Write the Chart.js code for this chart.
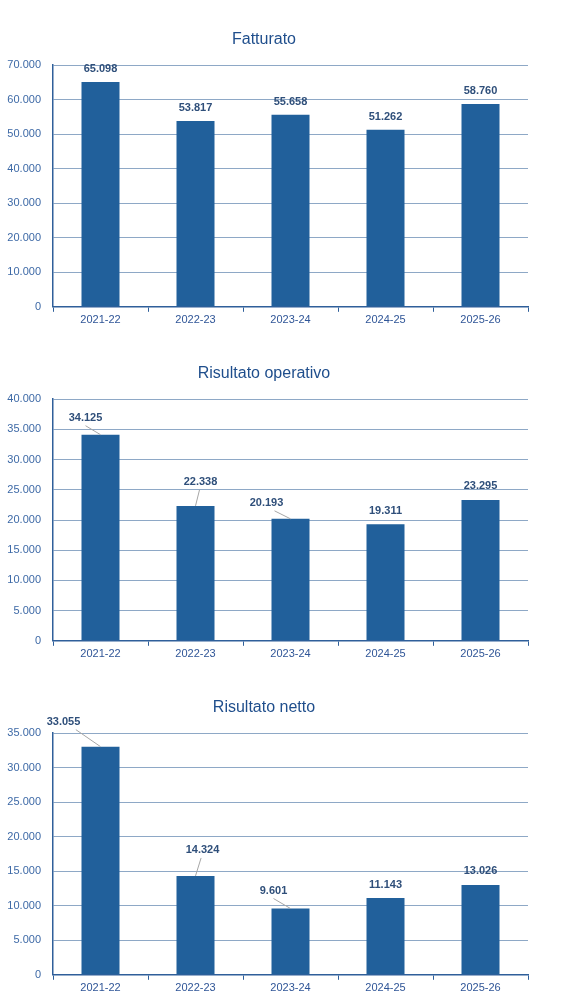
<!DOCTYPE html>
<html>
<head>
<meta charset="utf-8">
<script src="https://cdn.jsdelivr.net/npm/chart.js@4"></script>
<style>
body { margin: 0; background: #fff; }
.box { position: absolute; left: 0; width: 579px; height: 335px; }
</style>
</head>
<body>
<div class="box" style="top:0"><canvas id="c1"></canvas></div>
<div class="box" style="top:334px"><canvas id="c2"></canvas></div>
<div class="box" style="top:668px"><canvas id="c3"></canvas></div>
<script>
const years = ["2021-22", "2022-23", "2023-24", "2024-25", "2025-26"];
const fatturato = [65098, 53817, 55658, 51262, 58760];
const operativo = [34125, 22338, 20193, 19311, 23295];
const netto = [33055, 14324, 9601, 11143, 13026];

const fmt = v => v.toLocaleString("it-IT");

// label offsets from bar top (px), leader line drawn when far
const labelPlugin = {
    id: "barLabels",
    afterDatasetsDraw(chart, args, opts) {
        const ctx = chart.ctx;
        const meta = chart.getDatasetMeta(0);
        const data = chart.data.datasets[0].data;
        ctx.save();
        ctx.font = "bold 11px 'Liberation Sans', Arial";
        ctx.textAlign = "center";
        ctx.textBaseline = "middle";
        meta.data.forEach((bar, i) => {
            const [dx, dy] = opts.offsets[i];
            const lx = bar.x + dx, ly = bar.y + dy;
            if (dy < -15) {
                ctx.strokeStyle = "#a6a6a6";
                ctx.lineWidth = 1;
                ctx.beginPath();
                ctx.moveTo(lx + (dx < -20 ? dx / -3 : 0) - (dx > 0 ? dx : 0) * 0.2, ly + 8);
                ctx.lineTo(bar.x, bar.y);
                ctx.stroke();
            }
            ctx.fillStyle = "#2f4f7a";
            ctx.fillText(fmt(data[i]), lx, ly);
        });
        ctx.restore();
    }
};

function makeChart(id, title, values, max, step, offsets) {
    new Chart(document.getElementById(id), {
        type: "bar",
        data: { labels: years, datasets: [{ data: values, backgroundColor: "#21609b", barPercentage: 0.4, categoryPercentage: 1 }] },
        plugins: [labelPlugin],
        options: {
            responsive: true,
            maintainAspectRatio: false,
            animation: false,
            layout: { padding: { left: 0, right: 51, top: 20, bottom: 6 } },
            plugins: {
                legend: { display: false },
                tooltip: { enabled: false },
                title: { display: true, text: title, color: "#1f4e8c", font: { family: "Liberation Sans, Arial", size: 16, weight: "normal" }, padding: { top: 10, bottom: 16 } },
                barLabels: { offsets: offsets }
            },
            scales: {
                x: {
                    grid: { display: true, drawOnChartArea: false, drawTicks: true, tickLength: 5, color: "#2f5f9a", offset: true },
                    border: { color: "#2f5f9a", width: 1.5 },
                    ticks: { color: "#2f5597", font: { family: "Liberation Sans, Arial", size: 11 }, padding: 2 }
                },
                y: {
                    min: 0, max: max,
                    afterFit: s => { s.width = 53; },
                    grid: { color: "#8ea8c6", drawTicks: false },
                    border: { color: "#2f5f9a", width: 1.5 },
                    ticks: { stepSize: step, color: "#3d69a6", font: { family: "Liberation Sans, Arial", size: 11 }, padding: 12, callback: v => fmt(v) }
                }
            }
        }
    });
}

makeChart("c1", "Fatturato", fatturato, 70000, 10000, [[0, -13], [0, -13], [0, -13], [0, -13], [0, -13]]);
makeChart("c2", "Risultato operativo", operativo, 40000, 5000, [[-15, -17], [5, -24], [-24, -16], [0, -13], [0, -14]]);
makeChart("c3", "Risultato netto", netto, 35000, 5000, [[-37, -25], [7, -26], [-17, -18], [0, -13], [0, -14]]);
</script>
</body>
</html>
